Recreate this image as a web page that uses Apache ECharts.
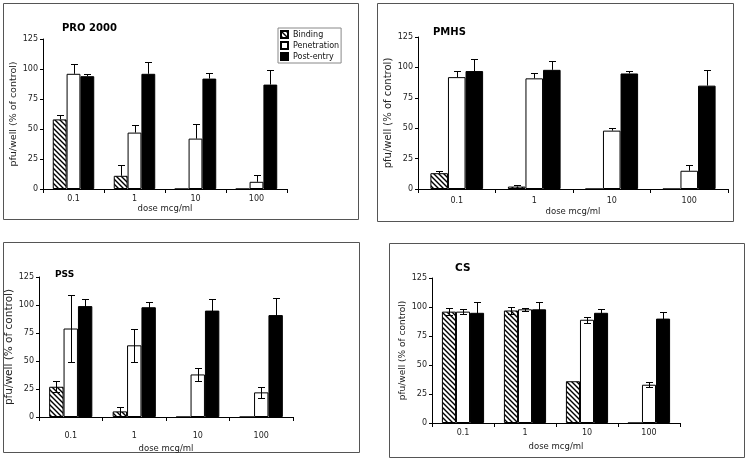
<!DOCTYPE html>
<html><head><meta charset="utf-8">
<script src="https://cdn.jsdelivr.net/npm/echarts@6/dist/echarts.min.js"></script>
<style>html,body{margin:0;padding:0;background:#fff}#c{width:747px;height:459px}</style>
</head><body><div id="c"></div>
<script>
// ---- data ----
const doses = ['0.1', '1', '10', '100'];
const seriesNames = ['Binding', 'Penetration', 'Post-entry'];
const panelTitles = ['PRO 2000', 'PMHS', 'PSS', 'CS'];
const yMin = 0, yMax = 125, yStep = 25;

const proBinding = [58, 11, 0, 0];
const proBindingErr = [4, 9, 0, 0];
const proPenetration = [96, 47, 42, 6];
const proPenetrationErr = [8, 6, 12, 6];
const proPostEntry = [94, 96, 92, 87];
const proPostEntryErr = [2, 10, 5, 12];

const pmhsBinding = [13, 2, 0, 0];
const pmhsBindingErr = [2, 1, 0, 0];
const pmhsPenetration = [92, 91, 48, 15];
const pmhsPenetrationErr = [5, 4, 2, 5];
const pmhsPostEntry = [97, 98, 95, 85];
const pmhsPostEntryErr = [10, 7, 2, 13];

const pssBinding = [27, 5, 0, 0];
const pssBindingErr = [5, 4, 0, 0];
const pssPenetration = [79, 64, 38, 22];
const pssPenetrationErr = [30, 15, 6, 5];
const pssPostEntry = [99, 98, 95, 91];
const pssPostEntryErr = [6, 5, 10, 15];

const csBinding = [96, 97, 36, 0];
const csBindingErr = [3, 3, 0, 0];
const csPenetration = [96, 98, 89, 33];
const csPenetrationErr = [2, 1.5, 2.5, 2];
const csPostEntry = [95, 98, 95, 90];
const csPostEntryErr = [9, 6, 3, 6];

// ---- styling / layout ----
const FONT = 'DejaVu Sans';
const GAP = 0.32;

function hatch() {
  const c = document.createElement('canvas');
  c.width = 5; c.height = 5;
  const g = c.getContext('2d');
  g.fillStyle = '#fff'; g.fillRect(0, 0, 5, 5);
  g.strokeStyle = '#000'; g.lineWidth = 1.4;
  g.beginPath();
  g.moveTo(-1, -1); g.lineTo(6, 6);
  g.moveTo(-1, 4); g.lineTo(1, 6);
  g.moveTo(4, -1); g.lineTo(6, 1);
  g.stroke();
  return { image: c, repeat: 'repeat' };
}
const fills = [hatch(), '#ffffff', '#000000'];

const panels = [
  { vals: [proBinding, proPenetration, proPostEntry], errs: [proBindingErr, proPenetrationErr, proPostEntryErr], both: false,
    grid: { left: 43, top: 39, width: 244, height: 150 }, lblMargin: 6, nameGap: 15, yNameGap: 24, yNameSize: 9.5,
    title: { left: 62, top: 23, size: 10 }, box: [3, 3, 355, 216] },
  { vals: [pmhsBinding, pmhsPenetration, pmhsPostEntry], errs: [pmhsBindingErr, pmhsPenetrationErr, pmhsPostEntryErr], both: false,
    grid: { left: 418, top: 37, width: 310, height: 152 }, lblMargin: 8, nameGap: 18, yNameGap: 23, yNameSize: 10,
    title: { left: 433, top: 27, size: 10 }, box: [377, 3, 356, 218] },
  { vals: [pssBinding, pssPenetration, pssPostEntry], errs: [pssBindingErr, pssPenetrationErr, pssPostEntryErr], both: true,
    grid: { left: 39, top: 277, width: 254, height: 140 }, lblMargin: 15, nameGap: 27, yNameGap: 21, yNameSize: 10.5,
    title: { left: 55, top: 270, size: 9 }, box: [3, 242, 356, 210] },
  { vals: [csBinding, csPenetration, csPostEntry], errs: [csBindingErr, csPenetrationErr, csPostEntryErr], both: true,
    grid: { left: 432, top: 278, width: 248, height: 145 }, lblMargin: 6, nameGap: 19, yNameGap: 25, yNameSize: 9,
    title: { left: 455, top: 263, size: 10.5 }, box: [389, 243, 355, 214] }
];

function errRender(si, both) {
  return function (params, api) {
    const ci = api.value(0), v = api.value(1), e = api.value(2);
    if (!e) return;
    const band = api.size([1, 0])[0];
    const usable = band * (1 - GAP);
    const bw = usable / 3;
    const base = api.coord([ci, v]);
    const x = Math.round(base[0] - usable / 2 + bw * (si + 0.5)) + 0.5;
    const top = Math.round(api.coord([ci, v + e])[1]) + 0.5;
    const bot = both ? Math.round(api.coord([ci, Math.max(0, v - e)])[1]) + 0.5 : base[1];
    const cap = 3.5;
    const st = { stroke: '#000', lineWidth: 1 };
    const ch = [
      { type: 'line', shape: { x1: x, y1: top, x2: x, y2: bot }, style: st },
      { type: 'line', shape: { x1: x - cap, y1: top, x2: x + cap, y2: top }, style: st }
    ];
    if (both) ch.push({ type: 'line', shape: { x1: x - cap, y1: bot, x2: x + cap, y2: bot }, style: st });
    return { type: 'group', children: ch };
  };
}

const grids = [], xAxes = [], yAxes = [], series = [], titles = [], graphics = [];
panels.forEach((p, i) => {
  grids.push(p.grid);
  xAxes.push({
    type: 'category', gridIndex: i, data: doses,
    name: 'dose mcg/ml', nameLocation: 'middle', nameGap: p.nameGap,
    nameTextStyle: { fontFamily: FONT, fontSize: 8.5, color: '#222' },
    axisLine: { lineStyle: { color: '#000', width: 1 } },
    axisTick: { show: true, length: 4, lineStyle: { color: '#000' } },
    axisLabel: { fontFamily: FONT, fontSize: 8, color: '#222', margin: p.lblMargin },
    splitLine: { show: false }
  });
  yAxes.push({
    type: 'value', gridIndex: i, min: yMin, max: yMax, interval: yStep,
    name: 'pfu/well (% of control)', nameLocation: 'middle', nameGap: p.yNameGap, nameRotate: 90,
    nameTextStyle: { fontFamily: FONT, fontSize: p.yNameSize, color: '#222' },
    axisLine: { show: true, lineStyle: { color: '#000', width: 1 } },
    axisTick: { show: true, length: 3, lineStyle: { color: '#000' } },
    axisLabel: { fontFamily: FONT, fontSize: 8, color: '#222', margin: 5 },
    splitLine: { show: false }
  });
  seriesNames.forEach((n, si) => {
    series.push({
      type: 'bar', name: n, xAxisIndex: i, yAxisIndex: i,
      data: p.vals[si], barGap: '0%', barCategoryGap: (GAP * 100) + '%',
      itemStyle: { color: fills[si], borderColor: '#000', borderWidth: 1 },
      emphasis: { disabled: true }, animation: false
    });
  });
  seriesNames.forEach((n, si) => {
    series.push({
      type: 'custom', name: n, xAxisIndex: i, yAxisIndex: i, z: 5,
      renderItem: errRender(si, p.both),
      encode: { x: 0, y: 1 },
      data: doses.map((d, k) => [k, p.vals[si][k], p.errs[si][k]]),
      animation: false, silent: true
    });
  });
  titles.push({
    text: panelTitles[i], left: p.title.left, top: p.title.top, padding: 0,
    textStyle: { fontFamily: FONT, fontWeight: 'bold', fontSize: p.title.size, color: '#000' }
  });
  graphics.push({
    type: 'rect', silent: true, z: -1,
    shape: { x: p.box[0] + 0.5, y: p.box[1] + 0.5, width: p.box[2], height: p.box[3] },
    style: { fill: 'none', stroke: '#555', lineWidth: 1 }
  });
});

const chart = echarts.init(document.getElementById('c'), null, { renderer: 'canvas' });
chart.setOption({
  animation: false,
  backgroundColor: '#fff',
  title: titles,
  grid: grids,
  xAxis: xAxes,
  yAxis: yAxes,
  series: series,
  graphic: graphics,
  legend: {
    data: seriesNames, orient: 'vertical', left: 278, top: 28,
    icon: 'rect', itemWidth: 7, itemHeight: 7, itemGap: 2, itemTextGap: 3,
    padding: [2, 2, 2, 2], borderColor: '#888', borderWidth: 1,
    textStyle: { fontFamily: FONT, fontSize: 8, color: '#111' },
    selectedMode: false
  }
});
</script>
</body></html>
